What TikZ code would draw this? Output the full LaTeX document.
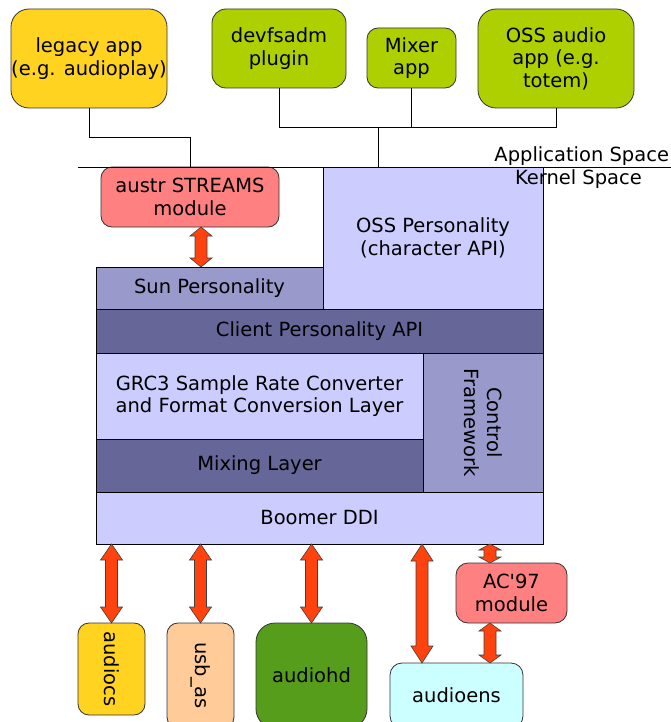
\documentclass[tikz,border=0pt]{standalone}
\usepackage{fontspec}
\setmainfont{DejaVu Sans}
% plain family without TeX ligature mapping, so ' stays a straight quote
\newfontfamily\plainsans{DejaVu Sans}
\usepackage{graphicx}
\usetikzlibrary{calc}

\definecolor{appyellow}{HTML}{FFD320}
\definecolor{appgreen}{HTML}{AECF00}
\definecolor{modpink}{HTML}{FF8080}
\definecolor{layerlight}{HTML}{CCCCFF}
\definecolor{layermid}{HTML}{9999CC}
\definecolor{layerdark}{HTML}{666699}
\definecolor{arrowred}{HTML}{FF420E}
\definecolor{drvpeach}{HTML}{FFCC99}
\definecolor{drvgreen}{HTML}{579D1C}
\definecolor{drvcyan}{HTML}{CCFFFF}

\tikzset{
  every node/.style={font=\plainsans\fontsize{19.5}{22.6}\selectfont, inner sep=0pt, outer sep=0pt},
  rbox/.style={draw=black!80, line width=0.8pt, rounded corners=#1, align=center},
  rbox/.default=12pt,
  layer/.style={draw=black, line width=0.8pt, align=center},
  wire/.style={draw=black, line width=0.8pt},
  fatarrow/.style={fill=arrowred, draw=black!75, line width=0.6pt, line join=miter},
}

% Double-headed block arrow: top y from #1, x and bottom y from #2, head length #3
\newcommand\blockarrow[3]{%
  \filldraw[fatarrow] let \p1=#1, \p2=#2 in
    (\x2,\y1) -- (\x2+11pt,\y1-#3) -- (\x2+6pt,\y1-#3) -- (\x2+6pt,\y2+#3)
    -- (\x2+11pt,\y2+#3) -- (\x2,\y2) -- (\x2-11pt,\y2+#3) -- (\x2-6pt,\y2+#3)
    -- (\x2-6pt,\y1-#3) -- (\x2-11pt,\y1-#3) -- cycle;}

\begin{document}
\begin{tikzpicture}[x=1pt, y=-1pt]
\useasboundingbox (0,0) rectangle (671,722);

% applications
\node[rbox=18pt, fill=appyellow, minimum width=156, minimum height=99] (legacy) at (89,58.5) {legacy app\\(e.g. audioplay)};
\node[rbox=14pt, fill=appgreen, minimum width=134, minimum height=79] (devfsadm) at (279,48.5) {devfsadm\\plugin};
\node[rbox=11pt, fill=appgreen, minimum width=89, minimum height=60] (mixer) at (411.5,58) {Mixer\\app};
\node[rbox=18pt, fill=appgreen, minimum width=156, minimum height=99] (ossapp) at (556,58.5) {OSS audio\\app (e.g.\\totem)};

% kernel layers
\node[rbox=11pt, fill=modpink, minimum width=178, minimum height=60] (austr) at (190,197) {austr STREAMS\\module};
\node[layer, fill=layerlight, minimum width=220, minimum height=142] (osspers) at (433,238) {OSS Personality\\(character API)};
\node[layer, fill=layermid, minimum width=227, minimum height=42] (sun) at (209.5,288) {Sun Personality};
\node[layer, fill=layerdark, minimum width=447, minimum height=44] (client) at (319.5,331) {Client Personality API};
\node[layer, fill=layerlight, minimum width=327, minimum height=86] (grc) at (259.5,396) {GRC3 Sample Rate Converter\\and Format Conversion Layer};
\node[layer, fill=layerdark, minimum width=327, minimum height=53] (mixing) at (259.5,465.5) {Mixing Layer};
\node[layer, fill=layermid, rotate=-90, minimum width=139, minimum height=120] (control) at (483,422.5) {Control\\Framework};
\node[layer, fill=layerlight, minimum width=447, minimum height=52] (boomer) at (319.5,518) {Boomer DDI};

% drivers
\node[rbox=12pt, fill=modpink, minimum width=111, minimum height=60] (ac97) at (511.5,593) {AC'97\\module};
\node[rbox=11pt, fill=appyellow, minimum width=67, minimum height=92] (audiocs) at (111.5,669) {\rotatebox{-90}{audiocs}};
\node[rbox=11pt, fill=drvpeach, minimum width=67, minimum height=105] (usbas) at (200.5,675.5) {\rotatebox{-90}{usb\_as}};
\node[rbox=19pt, fill=drvgreen, minimum width=111, minimum height=105] (audiohd) at (311.5,675.5) {audiohd};
\node[rbox=12pt, fill=drvcyan, minimum width=133, minimum height=65] (audioens) at (456.5,695.5) {audioens};

% user/kernel boundary
\coordinate (ks) at (78,167);
\coordinate (ke) at (671,167);
\draw[wire] (ks) -- (ke);
\node[anchor=base east] (appspace) at (669,162) {Application Space};
\node[anchor=base west] (kernspace) at (515,185) {Kernel Space};

% application wiring
\coordinate (bus) at (378.7,127);
\draw[wire] (legacy.south) -- ++(0,29) -| (austr.north);
\draw[wire] (devfsadm.south) |- (ossapp.south |- bus) -- (ossapp.south);
\draw[wire] (mixer.south) -- (mixer.south |- bus);
\draw[wire] (bus) -- (bus |- osspers.north);

% data paths
\blockarrow{(austr.south)}{($(sun.north)+(-8.5,0)$)}{9pt}
\blockarrow{(boomer.south)}{(audiocs.north)}{16pt}
\blockarrow{(boomer.south)}{(usbas.north)}{16pt}
\blockarrow{(boomer.south)}{(audiohd.north)}{16pt}
\blockarrow{(boomer.south)}{($(audioens.north)+(-34.5,0)$)}{17pt}
\blockarrow{(boomer.south)}{($(ac97.north)+(-21.5,0)$)}{6pt}
\blockarrow{($(ac97.south)+(-21.5,0)$)}{($(audioens.north)+(33.5,0)$)}{8pt}
\end{tikzpicture}
\end{document}
